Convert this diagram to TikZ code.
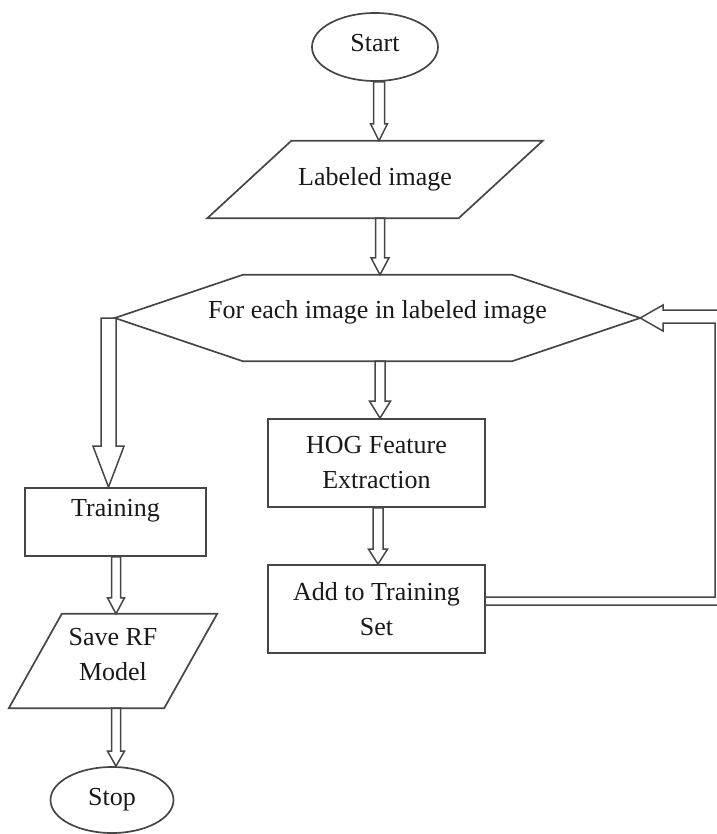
\documentclass[tikz,border=0pt]{standalone}
\usepackage{fontspec}
\setmainfont{Liberation Serif}
\usetikzlibrary{shapes.geometric,calc}
\definecolor{lc}{RGB}{70,70,70}
\definecolor{tc}{RGB}{25,25,25}
\tikzset{
  base/.style={inner sep=0pt, text=tc, font=\fontsize{26}{35}\selectfont, align=center},
  term/.style={base, ellipse, draw=lc, line width=1.7pt},
  procbox/.style={base, rectangle, draw=lc, line width=1.7pt},
  plain/.style={base, rectangle},
  outline/.style={draw=lc, line width=1.7pt, line join=miter},
  conn/.style={draw=lc, line width=1.5pt, line join=miter}
}
\newcommand{\hollowarrow}[6]{% #1 x, #2 from, #3 to, #4 shaft half, #5 head half, #6 head length
  \draw[conn] let \p1=#2, \p2=#3 in
    (#1-#4,\y1) -- (#1-#4,\y2+#6) -- (#1-#5,\y2+#6) -- (#1,\y2) --
    (#1+#5,\y2+#6) -- (#1+#4,\y2+#6) -- (#1+#4,\y1) -- cycle;}
\begin{document}
\begin{tikzpicture}[x=1pt,y=-1pt]
\useasboundingbox (0,0) rectangle (716,834);

% nodes
\node[term, minimum width=126pt, minimum height=68pt, text height=18pt, text depth=8pt] (start) at (375,47) {Start};
\node[plain, minimum width=251pt, minimum height=77pt] (lab) at (375,179.5) {Labeled image};
\node[plain, minimum width=525pt, minimum height=86pt, text height=18pt, text depth=18pt] (hex) at (377.5,318) {For each image in labeled image};
\node[procbox, minimum width=217pt, minimum height=88pt] (hog) at (376.5,463) {HOG Feature\\Extraction};
\node[procbox, minimum width=217pt, minimum height=88pt] (add) at (376.5,609) {Add to Training\\Set};
\node[procbox, minimum width=181pt, minimum height=68pt, text height=18pt, text depth=30pt] (train) at (115.5,522) {Training};
\node[plain, minimum width=155pt, minimum height=94pt, text height=56pt, text depth=18pt] (save) at (113,661) {Save RF\\Model};
\node[term, minimum width=123pt, minimum height=66pt] (stop) at (112,800) {Stop};

% shapes drawn from node anchors
\draw[outline] ([xshift=42pt]lab.north west) -- ([xshift=42pt]lab.north east) --
  ([xshift=-42pt]lab.south east) -- ([xshift=-42pt]lab.south west) -- cycle;
\draw[outline] (hex.west) -- ([xshift=128pt]hex.north west) -- ([xshift=-128pt]hex.north east) --
  (hex.east) -- ([xshift=-128pt]hex.south east) -- ([xshift=128pt]hex.south west) -- cycle;
\draw[outline] ([xshift=26.5pt]save.north west) -- ([xshift=26.5pt]save.north east) --
  ([xshift=-26.5pt]save.south east) -- ([xshift=-26.5pt]save.south west) -- cycle;

% hollow connectors
\hollowarrow{379pt}{(start.south)}{(lab.north)}{5.5pt}{8.5pt}{17pt}
\hollowarrow{380pt}{(lab.south)}{(hex.north)}{4.5pt}{9pt}{17pt}
\hollowarrow{380pt}{(hex.south)}{(hog.north)}{5pt}{10.5pt}{17pt}
\hollowarrow{378pt}{(hog.south)}{(add.north)}{5pt}{9.5pt}{15pt}
\hollowarrow{108.5pt}{(hex.west)}{(train.north)}{7.5pt}{15.5pt}{41pt}
\hollowarrow{116pt}{(train.south)}{(save.north)}{4.5pt}{8.5pt}{16pt}
\hollowarrow{116pt}{(save.south)}{(stop.north)}{4.5pt}{8.5pt}{15pt}

% loop back connector
\draw[conn] (add.east |- 0,605) -- (723,605) -- (723,310) -- (663,310) -- (663,305) --
  (hex.east) -- (663,331) -- (663,323) -- (715,323) -- (715,597) -- (add.east |- 0,597);
\end{tikzpicture}
\end{document}
